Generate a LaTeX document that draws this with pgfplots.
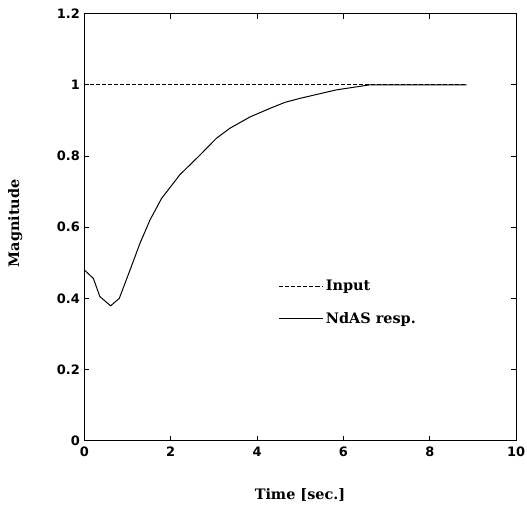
\documentclass[border=0pt]{standalone}
\usepackage{pgfplots}
\pgfplotsset{compat=1.18}
\usepackage{fontspec}
\setmainfont{DejaVu Serif}
\setsansfont{DejaVu Sans}
\begin{document}
\begin{tikzpicture}
\useasboundingbox (-84.3bp,-71.3bp) rectangle (442.7bp,440.7bp);
\begin{axis}[
  at={(0,0)}, anchor=south west,
  scale only axis,
  width=431.9bp, height=427bp,
  xmin=0, xmax=10, ymin=0, ymax=1.2,
  xtick={0,2,4,6,8,10},
  ytick={0,0.2,0.4,0.6,0.8,1,1.2},
  yticklabels={0,0.2,0.4,0.6,0.8,1,1.2},
  tick align=inside,
  major tick length=5bp,
  axis line style={line width=1.1pt},
  every tick/.style={line width=1pt, black},
  /pgf/number format/assume math mode=true,
  tick label style={font=\sffamily\bfseries\fontsize{13}{15}\selectfont},
  xticklabel style={yshift=-3bp},
  yticklabel style={xshift=-1bp},
  xlabel={Time [sec.]},
  ylabel={Magnitude},
  xlabel style={font=\rmfamily\bfseries\fontsize{14.5}{16}\selectfont, at={(axis description cs:0.4995,-0.127)}, anchor=center},
  ylabel style={font=\rmfamily\bfseries\fontsize{14.5}{16}\selectfont, at={(axis description cs:-0.16,0.509)}, anchor=center, rotate=0},
  legend style={at={(axis cs:4.50,0.457)}, anchor=north west, draw=none, fill=none, inner sep=0pt,
    font=\rmfamily\bfseries\fontsize{14.5}{16}\selectfont, row sep=16bp},
  legend cell align=left,
  legend image code/.code={\draw[#1] (0bp,0bp) -- (37bp,0bp); \path (37bp,0bp) -- (44bp,0bp);},
]
\addplot[black, line width=1pt, dash pattern=on 4pt off 2pt] coordinates {(0,1) (8.85,1)};
\addlegendentry{Input}
\addplot[black, line width=1pt] coordinates {
(0,0.480) (0.21,0.456) (0.36,0.405) (0.61,0.379) (0.81,0.400) (1.06,0.480)
(1.29,0.555) (1.52,0.620) (1.79,0.681) (2.21,0.747) (2.68,0.803) (3.06,0.850)
(3.37,0.878) (3.84,0.910) (4.30,0.934) (4.65,0.951) (4.99,0.962) (5.84,0.986)
(6.61,1.0) (8.85,1.0)};
\addlegendentry{NdAS resp.}
\end{axis}
\end{tikzpicture}
\end{document}
